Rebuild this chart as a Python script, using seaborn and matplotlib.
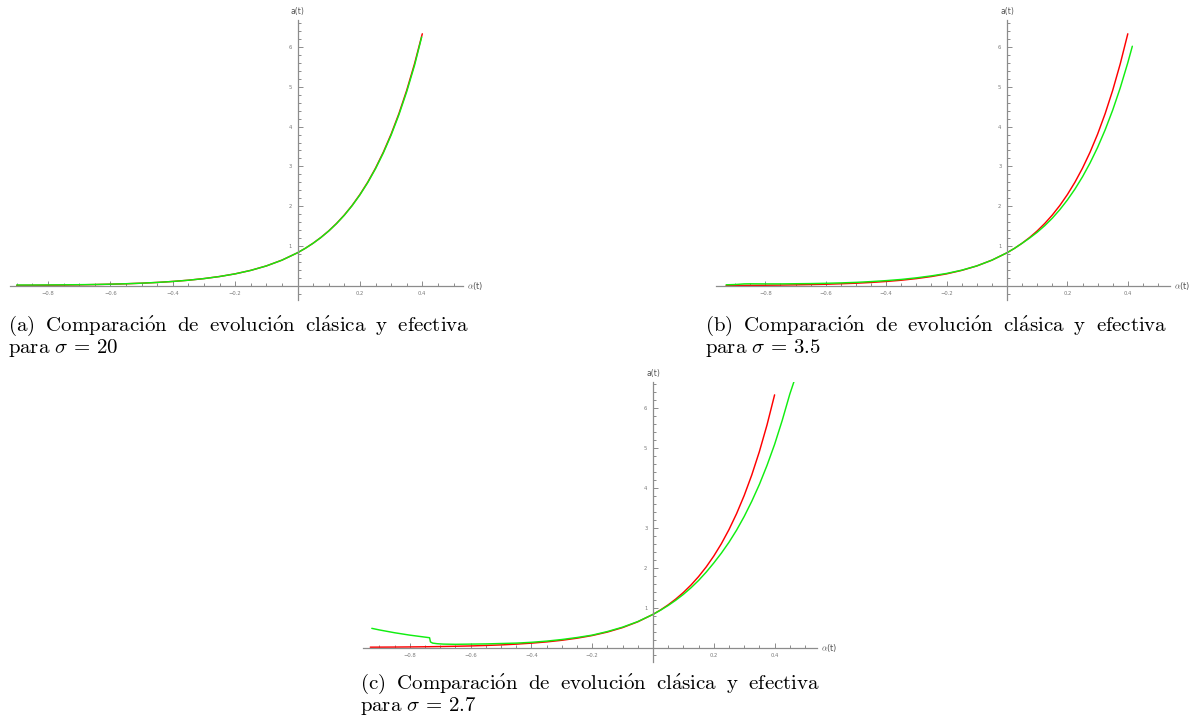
import numpy as np
import pandas as pd
import matplotlib
matplotlib.use("Agg")
import matplotlib.pyplot as plt
from matplotlib.ticker import FixedLocator, FixedFormatter
import seaborn as sns

# ---------------- data ----------------
# classical evolution (red), same in all panels
alpha_cl = [-0.93, -0.90, -0.85, -0.80, -0.75, -0.70, -0.65, -0.60, -0.55, -0.50,
            -0.45, -0.40, -0.35, -0.30, -0.25, -0.20, -0.15, -0.10, -0.05, 0.0,
            0.025, 0.05, 0.075, 0.10, 0.125, 0.15, 0.175, 0.20, 0.225, 0.25,
            0.275, 0.30, 0.325, 0.35, 0.375, 0.40]
a_cl = [0.008, 0.009, 0.011, 0.014, 0.018, 0.024, 0.031, 0.039, 0.051, 0.065,
        0.084, 0.109, 0.140, 0.181, 0.233, 0.300, 0.387, 0.499, 0.644, 0.83,
        0.942, 1.070, 1.215, 1.379, 1.566, 1.778, 2.019, 2.293, 2.603, 2.956,
        3.356, 3.810, 4.326, 4.912, 5.577, 6.332]

# effective evolution (green), sigma = 20
alpha_ef_a = [-0.90, -0.85, -0.80, -0.75, -0.70, -0.65, -0.60, -0.55, -0.50,
              -0.45, -0.40, -0.35, -0.30, -0.25, -0.20, -0.15, -0.10, -0.05, 0.0,
              0.025, 0.05, 0.075, 0.10, 0.125, 0.15, 0.175, 0.20, 0.225, 0.25,
              0.275, 0.30, 0.325, 0.35, 0.375, 0.398]
a_ef_a = [0.020, 0.020, 0.022, 0.025, 0.028, 0.033, 0.041, 0.052, 0.066,
          0.085, 0.109, 0.140, 0.181, 0.233, 0.300, 0.387, 0.499, 0.644, 0.83,
          0.942, 1.069, 1.213, 1.376, 1.562, 1.772, 2.012, 2.284, 2.591, 2.940,
          3.336, 3.785, 4.297, 4.876, 5.535, 6.25]

# effective evolution (green), sigma = 3.5
alpha_ef_b = [-0.93, -0.90, -0.87, -0.85, -0.80, -0.75, -0.70, -0.65, -0.60, -0.55,
              -0.50, -0.45, -0.40, -0.35, -0.30, -0.25, -0.20, -0.15, -0.10, -0.05,
              0.0, 0.025, 0.05, 0.075, 0.10, 0.125, 0.15, 0.175, 0.20, 0.225,
              0.25, 0.275, 0.30, 0.325, 0.35, 0.375, 0.40, 0.415]
a_ef_b = [0.025, 0.032, 0.048, 0.050, 0.048, 0.048, 0.052, 0.056, 0.063, 0.073,
          0.086, 0.106, 0.130, 0.160, 0.200, 0.250, 0.310, 0.392, 0.500, 0.645,
          0.83, 0.942, 1.069, 1.200, 1.345, 1.511, 1.699, 1.914, 2.157, 2.430,
          2.739, 3.086, 3.477, 3.918, 4.415, 4.974, 5.605, 6.019]

# effective evolution (green), sigma = 2.7
alpha_ef_c = [-0.925, -0.90, -0.85, -0.80, -0.76, -0.735, -0.732, -0.725, -0.71,
              -0.69, -0.65, -0.60, -0.55, -0.50, -0.45, -0.40, -0.35, -0.30, -0.25,
              -0.20, -0.15, -0.10, -0.05, 0.0, 0.025, 0.05, 0.075, 0.10, 0.125,
              0.15, 0.175, 0.20, 0.225, 0.25, 0.275, 0.30, 0.325, 0.35, 0.375,
              0.40, 0.425, 0.45, 0.464]
a_ef_c = [0.48, 0.44, 0.37, 0.31, 0.27, 0.245, 0.14, 0.11, 0.095,
          0.085, 0.080, 0.085, 0.090, 0.100, 0.110, 0.130, 0.160, 0.200, 0.250,
          0.310, 0.400, 0.510, 0.650, 0.83, 0.936, 1.053, 1.185, 1.332, 1.497,
          1.681, 1.889, 2.119, 2.366, 2.638, 2.942, 3.284, 3.666, 4.088, 4.563,
          5.09, 5.69, 6.35, 6.67]

x_major = [-0.8, -0.6, -0.4, -0.2, 0.2, 0.4]
x_major_labels = ["\u22120.8", "\u22120.6", "\u22120.4", "\u22120.2", "0.2", "0.4"]
y_major = [1, 2, 3, 4, 5, 6]
y_major_labels = ["1", "2", "3", "4", "5", "6"]

SP = r"\ \;"
captions = [
    ("$\\mathrm{(a)" + SP + "Comparaci\\acute{o}n" + SP + "de" + SP + "evoluci\\acute{o}n"
     + SP + "cl\\acute{a}sica" + SP + "y" + SP + "efectiva}$",
     r"$\mathrm{para}\ \sigma\,=\,20$"),
    ("$\\mathrm{(b)" + SP + "Comparaci\\acute{o}n" + SP + "de" + SP + "evoluci\\acute{o}n"
     + SP + "cl\\acute{a}sica" + SP + "y" + SP + "efectiva}$",
     r"$\mathrm{para}\ \sigma\,=\,3.5$"),
    ("$\\mathrm{(c)" + SP + "Comparaci\\acute{o}n" + SP + "de" + SP + "evoluci\\acute{o}n"
     + SP + "cl\\acute{a}sica" + SP + "y" + SP + "efectiva}$",
     r"$\mathrm{para}\ \sigma\,=\,2.7$"),
]

# ---------------- style ----------------
sns.set_style("white")
plt.rcParams["mathtext.fontset"] = "cm"
plt.rcParams["font.family"] = ["DejaVu Sans"]

W, H = 1203, 728
fig = plt.figure(figsize=(W / 100, H / 100), dpi=100)
fig.patch.set_facecolor("white")

RED = "#ff0000"
GREEN = "#11ee11"
AXC = "#8c8c8c"
LBL = "#555555"


def make_axes(ox, oy, sx, sy, xlim, ylim):
    left = ox + xlim[0] * sx
    right = ox + xlim[1] * sx
    top = oy - ylim[1] * sy
    bottom = oy - ylim[0] * sy
    ax = fig.add_axes([left / W, 1 - bottom / H, (right - left) / W, (bottom - top) / H])
    ax.set_xlim(*xlim)
    ax.set_ylim(*ylim)
    ax.set_facecolor("none")
    for s in ("top", "right"):
        ax.spines[s].set_visible(False)
    ax.spines["left"].set_position(("data", 0))
    ax.spines["bottom"].set_position(("data", 0))
    for s in ("left", "bottom"):
        ax.spines[s].set_color(AXC)
        ax.spines[s].set_linewidth(0.9)
    ax.xaxis.set_major_locator(FixedLocator(x_major))
    ax.xaxis.set_major_formatter(FixedFormatter(x_major_labels))
    ax.yaxis.set_major_locator(FixedLocator(y_major))
    ax.yaxis.set_major_formatter(FixedFormatter(y_major_labels))
    xmin = [v for v in np.round(np.arange(-0.9, 0.55, 0.05), 2)
            if xlim[0] < v < xlim[1] and v != 0 and abs(round(v / 0.2) - v / 0.2) > 1e-6]
    ymin = [v for v in np.round(np.arange(-0.2, 6.7, 0.2), 1)
            if ylim[0] < v < ylim[1] and v != 0 and abs(round(v) - v) > 1e-6]
    ax.xaxis.set_minor_locator(FixedLocator(xmin))
    ax.yaxis.set_minor_locator(FixedLocator(ymin))
    ax.tick_params(which="both", direction="in", color=AXC, width=0.7,
                   bottom=True, left=True, top=False, right=False)
    ax.tick_params(which="major", length=3.5, labelsize=3.8, labelcolor="#7a7a7a")
    ax.tick_params(which="minor", length=2)
    ax.tick_params(axis="x", pad=4)
    ax.tick_params(axis="y", pad=4)
    ax.annotate("a(t)", xy=(0, ylim[1]), xycoords="data", xytext=(0, 3),
                textcoords="offset points", ha="center", va="bottom",
                fontsize=5.5, color=LBL)
    ax.annotate(r"$\alpha$(t)", xy=(xlim[1], 0), xycoords="data", xytext=(3, 0),
                textcoords="offset points", ha="left", va="center",
                fontsize=6, color=LBL, annotation_clip=False)
    return ax


def draw(ax, ax_alpha_cl, ax_a_cl, ax_alpha_ef, ax_a_ef):
    d1 = pd.DataFrame({"alpha": ax_alpha_cl, "a": ax_a_cl})
    d2 = pd.DataFrame({"alpha": ax_alpha_ef, "a": ax_a_ef})
    sns.lineplot(data=d1, x="alpha", y="a", ax=ax, color=RED, lw=1.05,
                 sort=False, estimator=None)
    sns.lineplot(data=d2, x="alpha", y="a", ax=ax, color=GREEN, lw=1.05,
                 sort=False, estimator=None)
    ax.set_xlabel("")
    ax.set_ylabel("")


# panel (a)
ax_a = make_axes(297.5, 285.8, 312, 39.8, (-0.92, 0.53), (-0.36, 6.68))
cl_a_alpha = [x for x in alpha_cl if x >= -0.9]
cl_a_vals = [v for x, v in zip(alpha_cl, a_cl) if x >= -0.9]
draw(ax_a, cl_a_alpha, cl_a_vals, alpha_ef_a, a_ef_a)

# panel (b)
ax_b = make_axes(1007, 285.8, 302, 39.8, (-0.965, 0.54), (-0.36, 6.68))
draw(ax_b, alpha_cl, a_cl, alpha_ef_b, a_ef_b)

# panel (c)
ax_c = make_axes(653, 647.5, 304, 39.9, (-0.953, 0.538), (-0.36, 6.66))
draw(ax_c, alpha_cl, a_cl, alpha_ef_c, a_ef_c)

# captions
cap_pos = [(8, 331), (705, 331), (360, 689)]
for (cx, cy), (l1, l2) in zip(cap_pos, captions):
    fig.text(cx / W, 1 - cy / H, l1, ha="left", va="baseline", fontsize=15, color="black")
    fig.text(cx / W, 1 - (cy + 22) / H, l2, ha="left", va="baseline", fontsize=15, color="black")

fig.savefig("out.png", dpi=100, facecolor="white")
